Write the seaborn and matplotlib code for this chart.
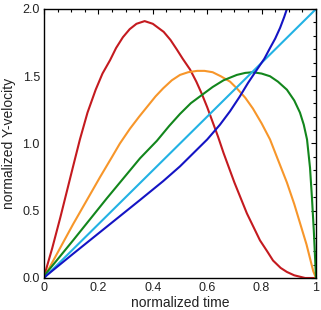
import matplotlib
matplotlib.use("Agg")
import matplotlib.pyplot as plt
import pandas as pd
import seaborn as sns
import numpy as np
from matplotlib.ticker import MultipleLocator, FixedFormatter, FixedLocator

# velocity profiles
red_t = [0, 0.01, 0.03, 0.06, 0.107, 0.132, 0.16, 0.19, 0.215, 0.243, 0.265, 0.29,
         0.315, 0.34, 0.37, 0.40, 0.42, 0.44, 0.465, 0.488, 0.51, 0.537, 0.56, 0.58,
         0.60, 0.62, 0.64, 0.66, 0.68, 0.70, 0.72, 0.746, 0.77, 0.794, 0.82, 0.842,
         0.87, 0.893, 0.92, 0.94, 0.96, 1.0]
red_v = [0, 0.08, 0.22, 0.45, 0.83, 1.03, 1.23, 1.40, 1.52, 1.62, 1.71, 1.79,
         1.85, 1.89, 1.91, 1.89, 1.86, 1.83, 1.77, 1.70, 1.63, 1.55, 1.46, 1.37,
         1.27, 1.16, 1.05, 0.93, 0.82, 0.71, 0.61, 0.48, 0.38, 0.28, 0.20, 0.13,
         0.075, 0.045, 0.02, 0.01, 0.0, 0.0]

orange_t = [0, 0.01, 0.107, 0.206, 0.25, 0.279, 0.316, 0.35, 0.378, 0.41, 0.438,
            0.47, 0.5, 0.53, 0.563, 0.59, 0.62, 0.65, 0.684, 0.709, 0.74, 0.768,
            0.80, 0.831, 0.86, 0.893, 0.92, 0.941, 0.965, 0.99, 1.0]
orange_v = [0, 0.04, 0.40, 0.75, 0.90, 1.0, 1.11, 1.20, 1.27, 1.35, 1.41,
            1.47, 1.51, 1.53, 1.54, 1.54, 1.53, 1.50, 1.46, 1.41, 1.34, 1.26,
            1.15, 1.03, 0.88, 0.71, 0.55, 0.41, 0.25, 0.05, 0.0]

green_t = [0, 0.01, 0.107, 0.23, 0.353, 0.415, 0.46, 0.5, 0.54, 0.58, 0.62, 0.66,
           0.709, 0.74, 0.768, 0.80, 0.831, 0.86, 0.893, 0.92, 0.941, 0.955, 0.967,
           0.978, 0.985, 0.992, 1.0]
green_v = [0, 0.04, 0.28, 0.59, 0.89, 1.02, 1.13, 1.22, 1.30, 1.36, 1.42, 1.47,
           1.51, 1.525, 1.53, 1.52, 1.50, 1.46, 1.40, 1.32, 1.23, 1.14, 1.03,
           0.82, 0.60, 0.35, 0.0]

cyan_t = [0, 0.5, 1.0]
cyan_v = [0, 1.0, 2.0]

blue_t = [0, 0.01, 0.107, 0.23, 0.353, 0.438, 0.5, 0.55, 0.60, 0.647, 0.684,
          0.72, 0.75, 0.783, 0.81, 0.831, 0.85, 0.868, 0.883, 0.893, 0.91]
blue_v = [0, 0.02, 0.18, 0.38, 0.58, 0.72, 0.83, 0.93, 1.03, 1.14, 1.24,
          1.35, 1.45, 1.55, 1.63, 1.71, 1.78, 1.86, 1.94, 2.0, 2.1]

names = ["red", "orange", "green", "cyan", "blue"]
colors = ["#c41a1f", "#f7962a", "#12861c", "#22b2e4", "#1414c4"]

frames = []
for name, t, v in zip(names,
                      [red_t, orange_t, green_t, cyan_t, blue_t],
                      [red_v, orange_v, green_v, cyan_v, blue_v]):
    frames.append(pd.DataFrame({"t": t, "v": v, "curve": name}))
df = pd.concat(frames, ignore_index=True)

sns.set_style("white")
plt.rcParams["font.family"] = ["Liberation Sans", "DejaVu Sans"]

fig = plt.figure(figsize=(3.21, 3.10), dpi=100)
ax = fig.add_axes([44/321, 32/310, 272/321, 269/310])

sns.lineplot(data=df, x="t", y="v", hue="curve", palette=dict(zip(names, colors)),
             estimator=None, sort=False, linewidth=1.5, legend=False, ax=ax)

ax.set_xlim(0, 1)
ax.set_ylim(0, 2)

ax.xaxis.set_major_locator(FixedLocator([0, 0.2, 0.4, 0.6, 0.8, 1.0]))
ax.xaxis.set_major_formatter(FixedFormatter(["0", "0.2", "0.4", "0.6", "0.8", "1"]))
ax.xaxis.set_minor_locator(MultipleLocator(0.05))
ax.yaxis.set_major_locator(MultipleLocator(0.5))
ax.yaxis.set_minor_locator(MultipleLocator(0.1))
ax.yaxis.set_major_formatter(plt.FormatStrFormatter("%.1f"))

ax.tick_params(which="both", direction="in", top=True, right=True, color="black",
               width=0.8, labelsize=9, pad=3, labelcolor="#222222")
ax.tick_params(which="major", length=3.5)
ax.tick_params(which="minor", length=2)

for s in ax.spines.values():
    s.set_color("black")
    s.set_linewidth(1.0)

ax.set_xlabel("normalized time", fontsize=10, labelpad=1, color="#222222")
ax.set_ylabel("normalized Y-velocity", fontsize=10, labelpad=5, color="#222222")

fig.savefig("out.png", dpi=100)
